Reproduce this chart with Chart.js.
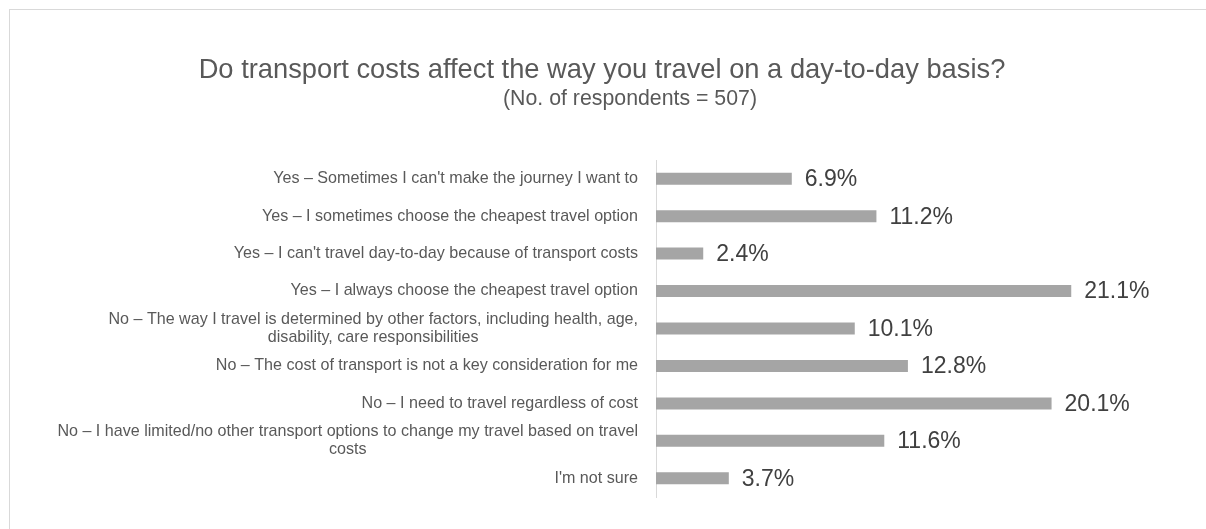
<!DOCTYPE html>
<html>
<head>
<meta charset="utf-8">
<script src="https://cdn.jsdelivr.net/npm/chart.js@4/dist/chart.umd.min.js"></script>
<style>
  html, body { margin: 0; padding: 0; background: #fff; overflow: hidden; }
  #frame { position: absolute; left: 9px; top: 9px; width: 1300px; height: 600px; border: 1px solid #d9d9d9; }
  #wrap { position: absolute; left: 0; top: 0; width: 1206px; height: 529px; }
</style>
</head>
<body>
<div id="frame"></div>
<div id="wrap"><canvas id="myChart"></canvas></div>
<script>
const categories = [
  ["Yes \u2013 Sometimes I can't make the journey I want to"],
  ["Yes \u2013 I sometimes choose the cheapest travel option"],
  ["Yes \u2013 I can't travel day-to-day because of transport costs"],
  ["Yes \u2013 I always choose the cheapest travel option"],
  ["No \u2013 The way I travel is determined by other factors, including health, age,", "disability, care responsibilities"],
  ["No \u2013 The cost of transport is not a key consideration for me"],
  ["No \u2013 I need to travel regardless of cost"],
  ["No \u2013 I have limited/no other transport options to change my travel based on travel", "costs"],
  ["I'm not sure"],
];
const percentages = [6.9, 11.2, 2.4, 21.1, 10.1, 12.8, 20.1, 11.6, 3.7];
const titleText = "Do transport costs affect the way you travel on a day-to-day basis?";
const subtitleText = "(No. of respondents = 507)";

const FONT = "'Liberation Sans', Arial, sans-serif";

// title + subtitle, drawn like the original (subtitle sits a bit right of centre)
const headerPlugin = {
  id: "header",
  afterDraw(chart) {
    const ctx = chart.ctx;
    ctx.save();
    ctx.fillStyle = "#595959";
    ctx.textAlign = "center";
    ctx.textBaseline = "alphabetic";
    ctx.font = "27.3px " + FONT;
    ctx.fillText(titleText, 602, 78);
    ctx.font = "21.3px " + FONT;
    ctx.fillText(subtitleText, 630, 105);
    ctx.restore();
  }
};

// category labels, wrapped lines centred inside a right-aligned block
const categoryLabelPlugin = {
  id: "categoryLabels",
  afterDraw(chart) {
    const ctx = chart.ctx;
    const yScale = chart.scales.y;
    const right = chart.chartArea.left - 18;
    const lineH = 18;
    ctx.save();
    ctx.font = "16.1px " + FONT;
    ctx.fillStyle = "#595959";
    ctx.textBaseline = "middle";
    ctx.textAlign = "center";
    categories.forEach((lines, i) => {
      const yc = yScale.getPixelForValue(i);
      const w = Math.max(...lines.map(l => ctx.measureText(l).width));
      const cx = right - w / 2;
      const top = yc - (lines.length - 1) * lineH / 2;
      lines.forEach((l, j) => ctx.fillText(l, cx, top + j * lineH));
    });
    ctx.restore();
  }
};

// value labels right of each bar
const valueLabelPlugin = {
  id: "valueLabels",
  afterDatasetsDraw(chart) {
    const ctx = chart.ctx;
    const meta = chart.getDatasetMeta(0);
    ctx.save();
    ctx.font = "23px " + FONT;
    ctx.fillStyle = "#404040";
    ctx.textAlign = "left";
    ctx.textBaseline = "middle";
    meta.data.forEach((bar, i) => {
      ctx.fillText(percentages[i].toFixed(1) + "%", bar.x + 13, bar.y + 1);
    });
    ctx.restore();
  }
};

const ctx = document.getElementById("myChart").getContext("2d");
new Chart(ctx, {
  type: "bar",
  data: {
    labels: categories,
    datasets: [{
      data: percentages,
      backgroundColor: "#a5a5a5",
      borderWidth: 0,
      categoryPercentage: 0.5,
      barPercentage: 0.64,
    }],
  },
  options: {
    indexAxis: "y",
    responsive: true,
    maintainAspectRatio: false,
    animation: false,
    layout: { padding: { left: 648, right: 58, top: 160, bottom: 32 } },
    scales: {
      x: { display: false, min: 0, max: 25 },
      y: {
        ticks: { display: false },
        grid: { display: false },
        border: { display: true, color: "#d9d9d9", width: 1 },
      },
    },
    plugins: {
      legend: { display: false },
      tooltip: { enabled: false },
    },
  },
  plugins: [headerPlugin, categoryLabelPlugin, valueLabelPlugin],
});
</script>
</body>
</html>
